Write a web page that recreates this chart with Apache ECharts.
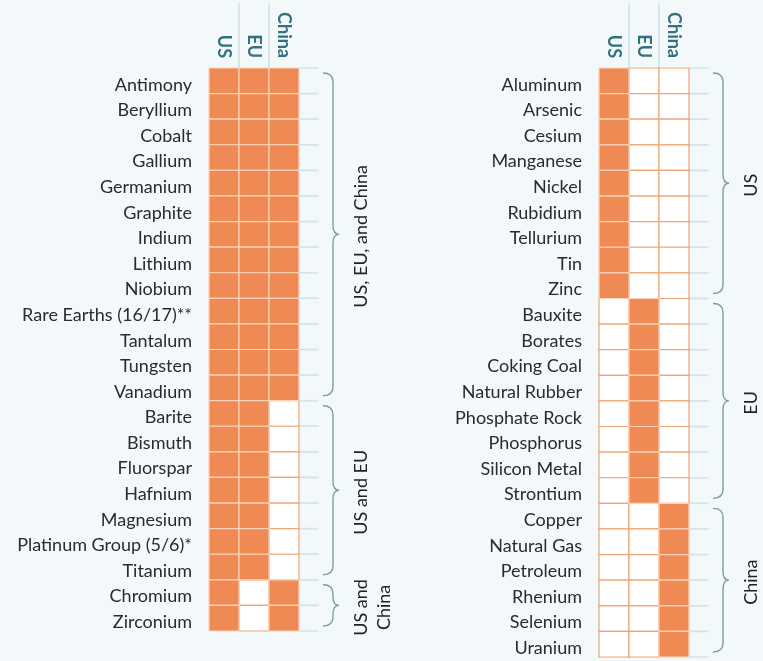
<!DOCTYPE html>
<html>
<head>
<meta charset="utf-8">
<script src="https://cdn.jsdelivr.net/npm/echarts@6/dist/echarts.min.js"></script>
<style>
    html, body { margin: 0; padding: 0; background: #f3f9fa; }
    #chart { width: 763px; height: 661px; }
</style>
</head>
<body>
<div id="chart"></div>
<script>
const countries = ['US', 'EU', 'China']

// left panel
const leftMinerals = ['Antimony', 'Beryllium', 'Cobalt', 'Gallium', 'Germanium', 'Graphite', 'Indium',
    'Lithium', 'Niobium', 'Rare Earths (16/17)**', 'Tantalum', 'Tungsten', 'Vanadium',
    'Barite', 'Bismuth', 'Fluorspar', 'Hafnium', 'Magnesium', 'Platinum Group (5/6)*', 'Titanium',
    'Chromium', 'Zirconium']
const leftUS    = [1, 1, 1, 1, 1, 1, 1, 1, 1, 1, 1, 1, 1, 1, 1, 1, 1, 1, 1, 1, 1, 1]
const leftEU    = [1, 1, 1, 1, 1, 1, 1, 1, 1, 1, 1, 1, 1, 1, 1, 1, 1, 1, 1, 1, 0, 0]
const leftChina = [1, 1, 1, 1, 1, 1, 1, 1, 1, 1, 1, 1, 1, 0, 0, 0, 0, 0, 0, 0, 1, 1]
const leftGroups = ['US, EU, and China', 'US and EU', 'US and\nChina']
const leftGroupFirst = [0, 13, 20]
const leftGroupLast = [12, 19, 21]

// right panel
const rightMinerals = ['Aluminum', 'Arsenic', 'Cesium', 'Manganese', 'Nickel', 'Rubidium', 'Tellurium',
    'Tin', 'Zinc', 'Bauxite', 'Borates', 'Coking Coal', 'Natural Rubber', 'Phosphate Rock',
    'Phosphorus', 'Silicon Metal', 'Strontium', 'Copper', 'Natural Gas', 'Petroleum', 'Rhenium',
    'Selenium', 'Uranium']
const rightUS    = [1, 1, 1, 1, 1, 1, 1, 1, 1, 0, 0, 0, 0, 0, 0, 0, 0, 0, 0, 0, 0, 0, 0]
const rightEU    = [0, 0, 0, 0, 0, 0, 0, 0, 0, 1, 1, 1, 1, 1, 1, 1, 1, 0, 0, 0, 0, 0, 0]
const rightChina = [0, 0, 0, 0, 0, 0, 0, 0, 0, 0, 0, 0, 0, 0, 0, 0, 0, 1, 1, 1, 1, 1, 1]
const rightGroups = ['US', 'EU', 'China']
const rightGroupFirst = [0, 9, 17]
const rightGroupLast = [8, 16, 22]

const FONT = 'Lato, "Open Sans", sans-serif'
const ORANGE = '#f08a55'
const TEAL = '#33717f'

function cells(us, eu, china) {
    const cols = [us, eu, china]
    const out = []
    for (let r = 0; r < us.length; r++) {
        for (let c = 0; c < cols.length; c++) out.push([c, r, cols[c][r]])
    }
    return out
}

function renderCell(params, api) {
    const col = api.value(0), row = api.value(1), on = api.value(2)
    const p = api.coord([col, row])
    const s = api.size([1, 1])
    const x = p[0] - s[0] / 2, y = p[1] - s[1] / 2
    const children = [{
        type: 'rect',
        shape: {x: x, y: y, width: s[0], height: s[1]},
        style: on
            ? {fill: ORANGE, stroke: '#fbd3b8', lineWidth: 1.2}
            : {fill: '#fff', stroke: '#efa677', lineWidth: 1.2},
        z2: on ? 2 : 1
    }]
    if (col === 2) {
        const x1 = x + s[0], x2 = x1 + s[0] * 0.65
        children.push(
            {type: 'line', shape: {x1: x1, y1: y, x2: x2, y2: y}, style: {stroke: '#d6e5e9', lineWidth: 1.5}},
            {type: 'line', shape: {x1: x1, y1: y + s[1], x2: x2, y2: y + s[1]}, style: {stroke: '#d6e5e9', lineWidth: 1.5}}
        )
    }
    if (row === 0 && col < 2) {
        children.push({
            type: 'line',
            shape: {x1: x + s[0], y1: y - 65, x2: x + s[0], y2: y},
            style: {stroke: '#bcd8dd', lineWidth: 1}
        })
    }
    return {type: 'group', children: children}
}

function renderBrace(labels) {
    return function (params, api) {
        const first = api.value(0), last = api.value(1), idx = api.value(2)
        const top = api.coord([2, first]), bot = api.coord([2, last])
        const s = api.size([1, 1])
        const edge = top[0] + s[0] / 2
        const y1 = top[1] - s[1] / 2 + 5, y2 = bot[1] + s[1] / 2 - 5, ym = (y1 + y2) / 2
        const x0 = edge + 24, x1 = edge + 34, x2 = edge + 40, r = 9
        const d = 'M' + x0 + ',' + y1 + ' Q' + x1 + ',' + y1 + ' ' + x1 + ',' + (y1 + r) +
            ' L' + x1 + ',' + (ym - r) + ' Q' + x1 + ',' + ym + ' ' + x2 + ',' + ym +
            ' Q' + x1 + ',' + ym + ' ' + x1 + ',' + (ym + r) +
            ' L' + x1 + ',' + (y2 - r) + ' Q' + x1 + ',' + y2 + ' ' + x0 + ',' + y2
        return {
            type: 'group',
            children: [{
                type: 'path',
                shape: {pathData: d},
                style: {fill: null, stroke: '#7f9ca5', lineWidth: 1.4}
            }, {
                type: 'text',
                x: edge + 51,
                y: ym + 2,
                rotation: Math.PI / 2,
                style: {
                    text: labels[idx], align: 'center', verticalAlign: 'top',
                    fontSize: 18, lineHeight: 23, fill: '#222', fontFamily: FONT
                }
            }]
        }
    }
}

function braces(first, last) {
    return first.map((f, i) => [f, last[i], i])
}

const chart = echarts.init(document.getElementById('chart'))

const xAxisBase = {
    type: 'category',
    data: countries,
    position: 'top',
    axisLine: {show: false},
    axisTick: {show: false},
    splitLine: {show: false},
    axisLabel: {rotate: 90, margin: 10, color: TEAL, fontWeight: 'bold', fontSize: 18, fontFamily: FONT}
}
const yAxisBase = {
    type: 'category',
    inverse: true,
    axisLine: {show: false},
    axisTick: {show: false},
    splitLine: {show: false},
    axisLabel: {
        margin: 17, color: '#2b2b2b', fontSize: 18, fontFamily: FONT,
        verticalAlign: 'top', lineHeight: 8
    }
}

chart.setOption({
    backgroundColor: '#f3f9fa',
    animation: false,
    grid: [
        {left: 209, top: 68, width: 90, height: 563},
        {left: 599, top: 68, width: 90, height: 589}
    ],
    xAxis: [
        Object.assign({gridIndex: 0}, xAxisBase),
        Object.assign({gridIndex: 1}, xAxisBase)
    ],
    yAxis: [
        Object.assign({gridIndex: 0, data: leftMinerals}, yAxisBase),
        Object.assign({gridIndex: 1, data: rightMinerals}, yAxisBase)
    ],
    series: [{
        type: 'custom', xAxisIndex: 0, yAxisIndex: 0, clip: false,
        renderItem: renderCell, data: cells(leftUS, leftEU, leftChina)
    }, {
        type: 'custom', xAxisIndex: 1, yAxisIndex: 1, clip: false,
        renderItem: renderCell, data: cells(rightUS, rightEU, rightChina)
    }, {
        type: 'custom', xAxisIndex: 0, yAxisIndex: 0, clip: false,
        renderItem: renderBrace(leftGroups), data: braces(leftGroupFirst, leftGroupLast)
    }, {
        type: 'custom', xAxisIndex: 1, yAxisIndex: 1, clip: false,
        renderItem: renderBrace(rightGroups), data: braces(rightGroupFirst, rightGroupLast)
    }]
})
</script>
</body>
</html>
